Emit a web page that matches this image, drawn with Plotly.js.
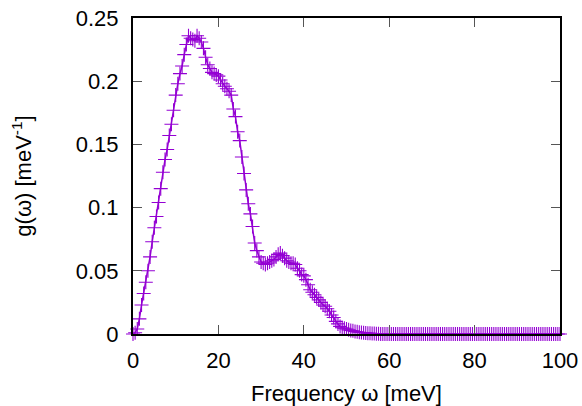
<!DOCTYPE html>
<html>
<head>
<meta charset="utf-8">
<script src="https://cdn.plot.ly/plotly-3.0.1.min.js"></script>
<style>html,body{margin:0;padding:0;background:#fff;}#chart{width:582px;height:406px;}</style>
</head>
<body>
<div id="chart"></div>
<script>
// Frequency (meV)
const omega = [
 0,0.5,1,1.5,2,2.5,3,3.5,4,4.5,5,5.5,6,6.5,7,7.5,8,8.5,9,9.5,
 10,10.5,11,11.5,12,12.5,13,13.5,14,14.5,15,15.5,16,16.5,17,17.5,18,18.5,19,19.5,
 20,20.5,21,21.5,22,22.5,23,23.5,24,24.5,25,25.5,26,26.5,27,27.5,28,28.5,29,29.5,
 30,30.5,31,31.5,32,32.5,33,33.5,34,34.5,35,35.5,36,36.5,37,37.5,38,38.5,39,39.5,
 40,40.5,41,41.5,42,42.5,43,43.5,44,44.5,45,45.5,46,46.5,47,47.5,48,48.5,49,49.5,
 50,50.5,51,51.5,52,52.5,53,53.5,54,54.5,55,55.5,56,56.5,57,57.5,58,58.5,59,59.5,
 60,60.5,61,61.5,62,62.5,63,63.5,64,64.5,65,65.5,66,66.5,67,67.5,68,68.5,69,69.5,
 70,70.5,71,71.5,72,72.5,73,73.5,74,74.5,75,75.5,76,76.5,77,77.5,78,78.5,79,79.5,
 80,80.5,81,81.5,82,82.5,83,83.5,84,84.5,85,85.5,86,86.5,87,87.5,88,88.5,89,89.5,
 90,90.5,91,91.5,92,92.5,93,93.5,94,94.5,95,95.5,96,96.5,97,97.5,98,98.5,99,99.5,
 100
];
// Density of states g(omega) (1/meV)
const dos = [
 0,0.001,0.004,0.012,0.023,0.032,0.041,0.050,0.061,0.073,0.084,0.093,0.104,0.115,0.128,0.138,0.146,0.157,0.166,0.177,
 0.189,0.198,0.206,0.212,0.221,0.229,0.236,0.234,0.233,0.232,0.236,0.234,0.231,0.226,0.219,0.213,0.210,0.207,0.206,0.205,
 0.204,0.201,0.198,0.196,0.194,0.192,0.189,0.178,0.172,0.160,0.153,0.140,0.127,0.114,0.103,0.095,0.085,0.072,0.066,0.061,
 0.057,0.056,0.055,0.056,0.057,0.058,0.059,0.061,0.063,0.064,0.062,0.060,0.058,0.057,0.056,0.056,0.055,0.052,0.050,0.047,
 0.046,0.043,0.039,0.035,0.033,0.031,0.029,0.027,0.025,0.023,0.022,0.020,0.018,0.015,0.013,0.010,0.008,0.006,0.005,0.0045,
 0.004,0.0033,0.0028,0.0025,0.002,0.0017,0.0014,0.0012,0.001,0.0008,0.0006,0.0005,0.0004,0.0003,0.0002,0.0001,0,0,0,0,
 0,0,0,0,0,0,0,0,0,0,0,0,0,0,0,0,0,0,0,0,
 0,0,0,0,0,0,0,0,0,0,0,0,0,0,0,0,0,0,0,0,
 0,0,0,0,0,0,0,0,0,0,0,0,0,0,0,0,0,0,0,0,
 0,0,0,0,0,0,0,0,0,0,0,0,0,0,0,0,0,0,0,0,
 0
];
const xTicks = [0,20,40,60,80,100];
const yTicks = [0,0.05,0.1,0.15,0.2,0.25];
const yTickText = ['0','0.05','0.1','0.15','0.2','0.25'];

const font = {family: 'Liberation Sans, Arial, sans-serif', size: 22, color: '#000'};

const traces = [{
  x: omega, y: dos, type: 'scatter', mode: 'lines+markers',
  line: {color: '#9400d3', width: 1.5},
  marker: {symbol: 'cross-thin-open', size: 10, color: '#9400d3', line: {color: '#9400d3', width: 1.1}},
  cliponaxis: false,
  showlegend: false
}];

const axisCommon = {
  showline: true, mirror: 'ticks', linecolor: '#000', linewidth: 2,
  ticks: 'inside', ticklen: 9, tickwidth: 1, tickcolor: '#555',
  showgrid: false, zeroline: false, tickfont: font
};

const layout = {
  width: 582, height: 406,
  margin: {l: 133, r: 22, t: 18, b: 72},
  paper_bgcolor: '#fff', plot_bgcolor: '#fff',
  font: font,
  xaxis: Object.assign({}, axisCommon, {
    range: [0, 100], tickmode: 'array', tickvals: xTicks,
    ticklabelstandoff: 6,
    title: {text: 'Frequency ω [meV]', font: {family: font.family, size: 22, color: '#000'}, standoff: 14}
  }),
  yaxis: Object.assign({}, axisCommon, {
    range: [0, 0.25], tickmode: 'array', tickvals: yTicks, ticktext: yTickText,
    ticklabelstandoff: 8,
    title: {text: 'g(ω) [meV<sup>-1</sup>]', font: {family: font.family, size: 22, color: '#000'}, standoff: 38}
  })
};

Plotly.newPlot('chart', traces, layout, {displayModeBar: false, staticPlot: true});
</script>
</body>
</html>
